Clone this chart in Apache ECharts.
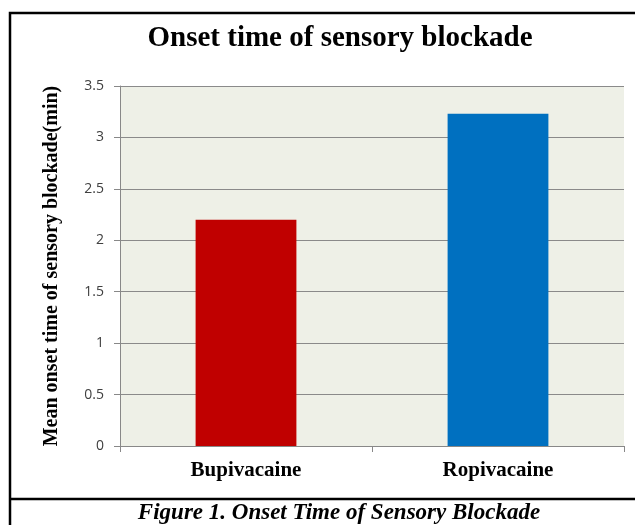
<!DOCTYPE html>
<html><head><meta charset="utf-8">
<script src="https://cdn.jsdelivr.net/npm/echarts@6/dist/echarts.min.js"></script>
<style>html,body{margin:0;padding:0;background:#fff;}#c{width:635px;height:525px;}</style>
</head><body><div id="c"></div>
<script>
const categories = ['Bupivacaine', 'Ropivacaine'];
const values = [2.2, 3.23];
const barColors = ['#C00000', '#0070C0'];
const yTicks = [0, 0.5, 1, 1.5, 2, 2.5, 3, 3.5];
const titleText = 'Onset time of sensory blockade';
const yName = 'Mean onset time of sensory blockade(min)';
const captionText = 'Figure 1. Onset Time of Sensory Blockade';

const chart = echarts.init(document.getElementById('c'), null, {renderer: 'canvas'});
chart.setOption({
  animation: false,
  backgroundColor: '#fff',
  title: {
    text: titleText, left: 335, top: 19, textAlign: 'center',
    textStyle: {fontFamily: 'Liberation Serif', fontWeight: 'bold', fontSize: 29, color: '#000'}
  },
  grid: {left: 120, right: 11, top: 86, bottom: 79, show: true, backgroundColor: '#EEF0E7', borderWidth: 0},
  xAxis: {
    type: 'category', data: categories,
    axisLine: {show: true, lineStyle: {color: '#888', width: 1}},
    axisTick: {show: true, length: 6, alignWithLabel: false, lineStyle: {color: '#888'}},
    axisLabel: {margin: 14, fontFamily: 'Liberation Serif', fontWeight: 'bold', fontSize: 21, color: '#000'}
  },
  yAxis: {
    type: 'value', min: yTicks[0], max: yTicks[yTicks.length - 1], interval: 0.5,
    name: yName, nameLocation: 'middle', nameGap: 58, nameRotate: 90,
    nameTextStyle: {fontFamily: 'Liberation Serif', fontWeight: 'bold', fontSize: 20, color: '#000'},
    axisLine: {show: true, lineStyle: {color: '#888', width: 1}},
    axisTick: {show: true, length: 6, lineStyle: {color: '#888'}},
    axisLabel: {margin: 16, fontFamily: 'Open Sans', fontSize: 14, color: '#404040'},
    splitLine: {show: true, lineStyle: {color: '#8a8a8a', width: 1}}
  },
  series: [{
    type: 'bar', barWidth: '40%',
    data: values.map((v, i) => ({value: v, itemStyle: {color: barColors[i]}}))
  }],
  graphic: [
    {type: 'rect', shape: {x: 10, y: 13, width: 640, height: 530}, style: {fill: 'none', stroke: '#000', lineWidth: 2.5}, silent: true},
    {type: 'line', shape: {x1: 10, y1: 499, x2: 640, y2: 499}, style: {stroke: '#000', lineWidth: 2.5}, silent: true},
    {type: 'text', x: 339, y: 513, style: {text: captionText, textAlign: 'center', textVerticalAlign: 'middle',
      font: 'italic bold 23px "Liberation Serif"', fill: '#000'}}
  ]
});
</script></body></html>
